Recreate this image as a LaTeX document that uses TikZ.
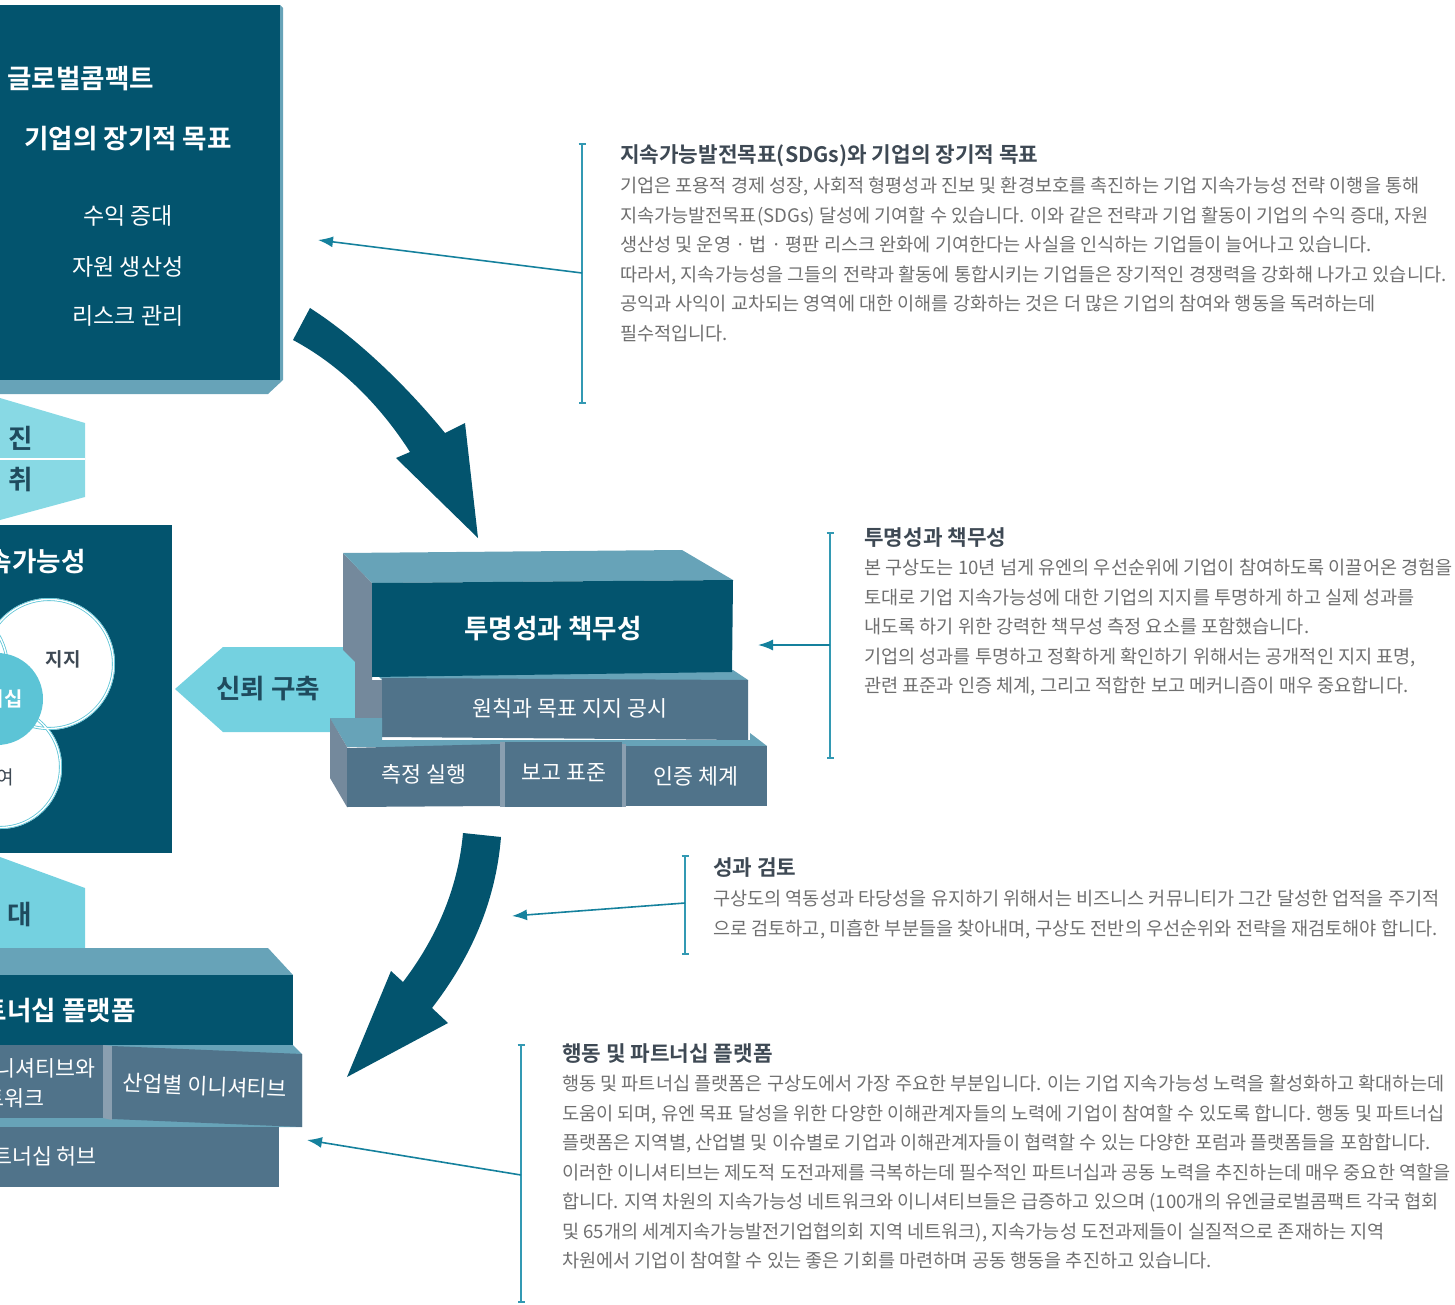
\documentclass[tikz,border=0pt]{standalone}
\usepackage{fontspec}
\setmainfont{Noto Sans CJK KR}[BoldFont={Noto Sans CJK KR Bold}]
\usetikzlibrary{arrows.meta}

\definecolor{gcdark}{HTML}{03546E}
\definecolor{gctop}{HTML}{67A3B8}
\definecolor{gcside}{HTML}{74899C}
\definecolor{gcgap}{HTML}{8A9FB0}
\definecolor{gcfront}{HTML}{50738A}
\definecolor{gccyan}{HTML}{74D1E0}
\definecolor{gccyanlt}{HTML}{88D9E4}
\definecolor{gcdot}{HTML}{5CC4D6}
\definecolor{gcink}{HTML}{1F4B5E}
\definecolor{gcline}{HTML}{15819D}
\definecolor{gcbar}{HTML}{3399B3}
\definecolor{gchead}{HTML}{3E4954}
\definecolor{gcbody}{HTML}{6F6F6F}

\tikzset{
  boxtitle/.style={inner sep=0pt, text=white, font=\bfseries\fontsize{26.6}{30}\selectfont},
  boxitem/.style={inner sep=0pt, text=white, font=\fontsize{23}{26}\selectfont},
  blocklabel/.style={inner sep=0pt, text=white, font=\fontsize{21.7}{25}\selectfont},
  cyanlabel/.style={inner sep=0pt, text=gcink, font=\bfseries\fontsize{26.6}{30}\selectfont},
  ringlabel/.style={inner sep=0pt, text=gchead, font=\bfseries\fontsize{19}{21}\selectfont},
  ring/.style={draw=gcdot, double=white, double distance=1.4pt, line width=0.8pt},
  pointer/.style={draw=gcline, line width=1.6pt, -{Latex[length=15pt,width=11pt]}},
  bracket/.style={draw=gcbar, line width=1.6pt, {Bar[width=7pt]}-{Bar[width=7pt]}},
  headtext/.style={anchor=west, inner sep=0pt, text=gchead, font=\bfseries\fontsize{21.3}{24}\selectfont},
  bodytext/.style={anchor=north west, inner sep=0pt, align=left, text=gcbody, font=\fontsize{18.6}{29.5}\selectfont},
}

\begin{document}
\begin{tikzpicture}[x=1pt, y=-1pt]
\useasboundingbox (0,0) rectangle (1455,1305);

% Global Compact box (top left)
\fill[gcdark] (0,5) rectangle (280,380);
\fill[gctop] (280,5) -- (283,8) -- (283,380) -- (268,394) -- (0,394) -- (0,380) -- (280,380) -- cycle;
\node[boxtitle, anchor=west] (gcname) at (7,79) {글로벌콤팩트};
\node[boxtitle] (goalhead) at (128,139) {기업의 장기적 목표};
\node[boxitem] (goal1) at (128,216) {수익 증대};
\node[boxitem] (goal2) at (128,267) {자원 생산성};
\node[boxitem] (goal3) at (128,316) {리스크 관리};

% cyan tabs on the left edge
\fill[gccyanlt] (0,398) -- (85,423) -- (85,497) -- (0,520) -- cycle;
\draw[white, line width=2pt] (0,459) -- (85,459);
\node[cyanlabel] (tabjin) at (21,438) {진};
\node[cyanlabel] (tabchwi) at (21,480) {취};
\fill[gccyan] (0,857) -- (85,888) -- (85,948) -- (0,948) -- cycle;
\node[cyanlabel] (tabdae) at (20,915) {대};

% sustainability box with circles
\fill[gcdark] (0,525) rectangle (172,853);
\node[boxtitle, anchor=east] (sustain) at (86,562) {속가능성};
\begin{scope}
  \clip (0,525) rectangle (172,853);
  \fill[white] (49,664) circle (66) (0,767) circle (62) (-57,668) circle (66);
  \draw[ring] (49,664) circle (64.5) (0,767) circle (60.5) (-57,668) circle (64.5);
  \fill[gcdot] (-3,699) circle (46);
\end{scope}
\node[ringlabel] (support) at (63,659) {지지};
\node[inner sep=0pt, anchor=east, text=white, font=\bfseries\fontsize{20}{22}\selectfont] (partner) at (23,699) {너십};
\node[ringlabel, anchor=east, font=\fontsize{19}{21}\selectfont] (engage) at (14,777) {여};

% trust arrow
\fill[gccyan] (175,689) -- (223,647) -- (355,647) -- (355,732) -- (223,732) -- cycle;
\node[cyanlabel] (trust) at (268,689) {신뢰 구축};

% transparency stack (middle)
\fill[gcside] (343,553) -- (372,583) -- (372,680) -- (382,680) -- (382,737) -- (355,737) -- (355,662) -- (343,650) -- cycle;
\fill[gctop] (343,553) -- (682,550) -- (733,580) -- (372,583) -- cycle;
\fill[gctop] (372,670) -- (733,670) -- (748,680) -- (382,680) -- cycle;
\fill[gcdark] (372,583) -- (733,580) -- (732,672) -- (372,677) -- cycle;
\node[boxtitle] (transp) at (553,629) {투명성과 책무성};
\fill[gcfront] (382,678) -- (748,680) -- (748,740) -- (382,737) -- cycle;
\node[blocklabel] (disclose) at (570,708) {원칙과 목표 지지 공시};
\fill[gctop] (330,718) -- (382,718) -- (382,740) -- (750,740) -- (750,733) -- (767,746) -- (347,747) -- cycle;
\fill[gcside] (330,718) -- (347,747) -- (347,807) -- (330,778) -- cycle;
\fill[gcfront] (347,748) -- (500,744) -- (500,806) -- (347,807) -- cycle;
\fill[gcgap] (500,742) rectangle (505,807);
\fill[gcfront] (505,742) rectangle (622,807);
\fill[gcgap] (622,744) rectangle (626,807);
\fill[gcfront] (626,746) rectangle (767,806);
\node[blocklabel] (measure) at (424,774) {측정 실행};
\node[blocklabel] (report) at (564,773) {보고 표준};
\node[blocklabel] (certify) at (696,776) {인증 체계};

% action and partnership stack (bottom left)
\fill[gctop] (0,948) -- (268,948) -- (293,975) -- (0,975) -- cycle;
\fill[gctop] (0,1045) -- (293,1045) -- (302,1054) -- (302,1127) -- (0,1127) -- cycle;
\fill[gcdark] (0,975) rectangle (293,1045);
\node[boxtitle, anchor=east] (platform) at (136,1011) {트너십 플랫폼};
\fill[gcfront] (0,1045) rectangle (103,1118);
\fill[gcgap] (103,1045) -- (112,1046) -- (112,1120) -- (103,1118) -- cycle;
\fill[gcfront] (112,1046) -- (302,1054) -- (302,1127) -- (112,1119) -- cycle;
\node[blocklabel, anchor=east] (localini) at (96,1068) {니셔티브와};
\node[blocklabel, anchor=east] (localnet) at (45,1098) {트워크};
\node[blocklabel, rotate=-2.5] (sectorini) at (205,1086) {산업별 이니셔티브};
\fill[gcfront] (0,1127) rectangle (279,1187);
\node[blocklabel, anchor=east] (hub) at (97,1156) {트너십 허브};

% big curved arrows
\fill[gcdark] (310,308) .. controls (360,340) and (410,390) .. (445,433) -- (465,423) -- (478,538)
  -- (396,458) -- (410,452) .. controls (380,405) and (340,365) .. (293,340) -- cycle;
\fill[gcdark] (463,833) .. controls (458,890) and (435,940) .. (403,982) -- (391,971) -- (347,1077)
  -- (448,1023) -- (432,1008) .. controls (465,965) and (495,910) .. (501,837) -- cycle;

% brackets and pointers
\coordinate (bartop1) at (582,143);  \coordinate (barbot1) at (582,404);
\coordinate (bartop2) at (830,532);  \coordinate (barbot2) at (830,759);
\coordinate (bartop3) at (685,855);  \coordinate (barbot3) at (685,955);
\coordinate (bartop4) at (521,1044); \coordinate (barbot4) at (521,1303);
\coordinate (from1) at (582,273);  \coordinate (to1) at (318,240);
\coordinate (from2) at (830,645);  \coordinate (to2) at (758,645);
\coordinate (from3) at (685,903);  \coordinate (to3) at (512,916);
\coordinate (from4) at (521,1175); \coordinate (to4) at (307,1140);
\foreach \i in {1,...,4} {
  \draw[bracket] (bartop\i) -- (barbot\i);
  \draw[pointer] (from\i) -- (to\i);
}

% explanations
\node[headtext] (head1) at (620,156) {지속가능발전목표(SDGs)와 기업의 장기적 목표};
\node[bodytext] (body1) at (620,177) {기업은 포용적 경제 성장, 사회적 형평성과 진보 및 환경보호를 촉진하는 기업 지속가능성 전략 이행을 통해\\
지속가능발전목표(SDGs) 달성에 기여할 수 있습니다. 이와 같은 전략과 기업 활동이 기업의 수익 증대, 자원\\
생산성 및 운영 · 법 · 평판 리스크 완화에 기여한다는 사실을 인식하는 기업들이 늘어나고 있습니다.\\
따라서, 지속가능성을 그들의 전략과 활동에 통합시키는 기업들은 장기적인 경쟁력을 강화해 나가고 있습니다.\\
공익과 사익이 교차되는 영역에 대한 이해를 강화하는 것은 더 많은 기업의 참여와 행동을 독려하는데\\
필수적입니다.};

\node[headtext] (head2) at (864,538) {투명성과 책무성};
\node[bodytext] (body2) at (864,559) {본 구상도는 10년 넘게 유엔의 우선순위에 기업이 참여하도록 이끌어온 경험을\\
토대로 기업 지속가능성에 대한 기업의 지지를 투명하게 하고 실제 성과를\\
내도록 하기 위한 강력한 책무성 측정 요소를 포함했습니다.\\
기업의 성과를 투명하고 정확하게 확인하기 위해서는 공개적인 지지 표명,\\
관련 표준과 인증 체계, 그리고 적합한 보고 메커니즘이 매우 중요합니다.};

\node[headtext] (head3) at (713,868) {성과 검토};
\node[bodytext] (body3) at (713,890) {구상도의 역동성과 타당성을 유지하기 위해서는 비즈니스 커뮤니티가 그간 달성한 업적을 주기적\\
으로 검토하고, 미흡한 부분들을 찾아내며, 구상도 전반의 우선순위와 전략을 재검토해야 합니다.};

\node[headtext] (head4) at (562,1054) {행동 및 파트너십 플랫폼};
\node[bodytext] (body4) at (562,1075) {행동 및 파트너십 플랫폼은 구상도에서 가장 주요한 부분입니다. 이는 기업 지속가능성 노력을 활성화하고 확대하는데\\
도움이 되며, 유엔 목표 달성을 위한 다양한 이해관계자들의 노력에 기업이 참여할 수 있도록 합니다. 행동 및 파트너십\\
플랫폼은 지역별, 산업별 및 이슈별로 기업과 이해관계자들이 협력할 수 있는 다양한 포럼과 플랫폼들을 포함합니다.\\
이러한 이니셔티브는 제도적 도전과제를 극복하는데 필수적인 파트너십과 공동 노력을 추진하는데 매우 중요한 역할을\\
합니다. 지역 차원의 지속가능성 네트워크와 이니셔티브들은 급증하고 있으며 (100개의 유엔글로벌콤팩트 각국 협회\\
및 65개의 세계지속가능발전기업협의회 지역 네트워크), 지속가능성 도전과제들이 실질적으로 존재하는 지역\\
차원에서 기업이 참여할 수 있는 좋은 기회를 마련하며 공동 행동을 추진하고 있습니다.};
\end{tikzpicture}
\end{document}
